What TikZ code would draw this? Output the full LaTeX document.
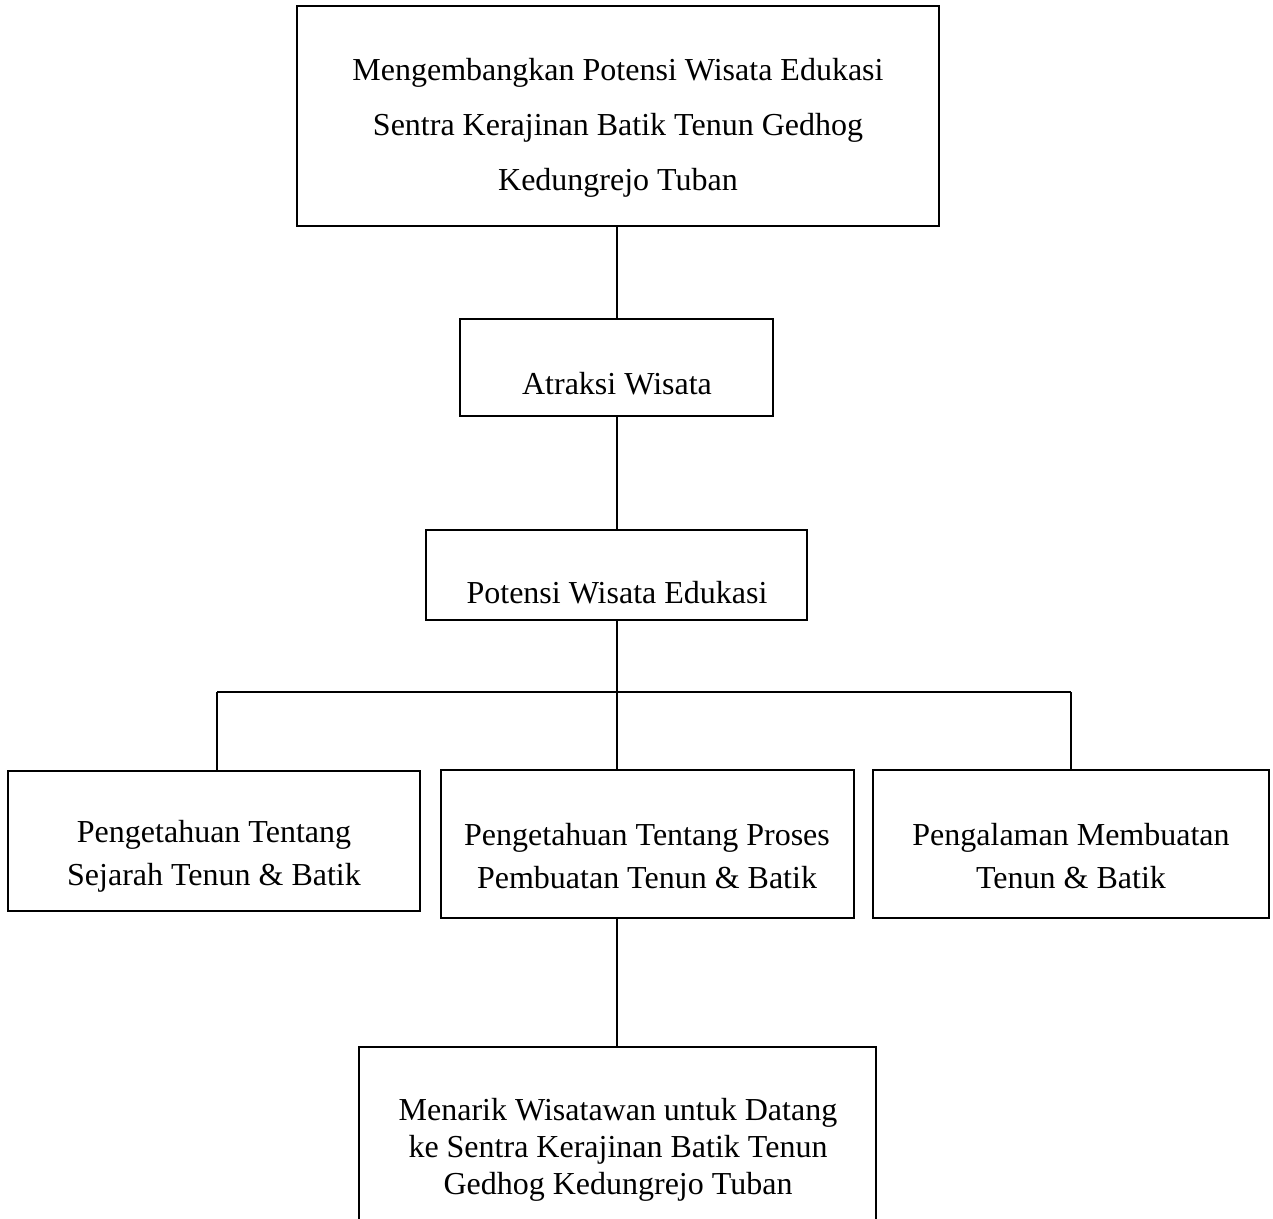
\documentclass[tikz,border=0pt]{standalone}
\usepackage{fontspec}
\setmainfont{Liberation Serif}
\begin{document}
\begin{tikzpicture}[x=1pt,y=-1pt,
  box/.style={draw, line width=1.6pt, inner sep=0pt},
  txt/.style={align=center, inner sep=0pt},
  conn/.style={line width=1.6pt}]
\useasboundingbox (0,0) rectangle (1273,1218);
% boxes
\node[box, minimum width=642, minimum height=220] (top) at (618,116) {};
\node[box, minimum width=313, minimum height=97] (atr) at (616.5,367.5) {};
\node[box, minimum width=381, minimum height=90] (pot) at (616.5,575) {};
\node[box, minimum width=412, minimum height=140] (left) at (214,841) {};
\node[box, minimum width=413, minimum height=148] (mid) at (647.5,844) {};
\node[box, minimum width=396, minimum height=148] (right) at (1071,844) {};
\node[box, minimum width=517, minimum height=200] (bot) at (617.5,1147) {};
% texts
\node[txt, font=\fontsize{32}{55}\selectfont] at (618,128) {Mengembangkan Potensi Wisata Edukasi\\Sentra Kerajinan Batik Tenun Gedhog\\Kedungrejo Tuban};
\node[txt, font=\fontsize{32}{43}\selectfont] at (617,384) {Atraksi Wisata};
\node[txt, font=\fontsize{32}{43}\selectfont] at (617,593) {Potensi Wisata Edukasi};
\node[txt, font=\fontsize{32}{43}\selectfont] at (214,856.5) {Pengetahuan Tentang\\Sejarah Tenun \& Batik};
\node[txt, font=\fontsize{32}{43}\selectfont] at (647,856.5) {Pengetahuan Tentang Proses\\Pembuatan Tenun \& Batik};
\node[txt, font=\fontsize{32}{43}\selectfont] at (1071,856.5) {Pengalaman Membuatan\\Tenun \& Batik};
\node[txt, font=\fontsize{32}{37}\selectfont] at (618,1150) {Menarik Wisatawan untuk Datang\\ke Sentra Kerajinan Batik Tenun\\Gedhog Kedungrejo Tuban};
% connectors
\coordinate (j) at (617,692);
\draw[conn] (617,0 |- top.south) -- (617,0 |- atr.north);
\draw[conn] (617,0 |- atr.south) -- (617,0 |- pot.north);
\draw[conn] (617,0 |- pot.south) -- (j);
\draw[conn] (217,0 |- j) -- (1071,0 |- j);
\draw[conn] (217,0 |- j) -- (217,0 |- left.north);
\draw[conn] (j) -- (617,0 |- mid.north);
\draw[conn] (1071,0 |- j) -- (1071,0 |- right.north);
\draw[conn] (617,0 |- mid.south) -- (617,0 |- bot.north);
\end{tikzpicture}
\end{document}
